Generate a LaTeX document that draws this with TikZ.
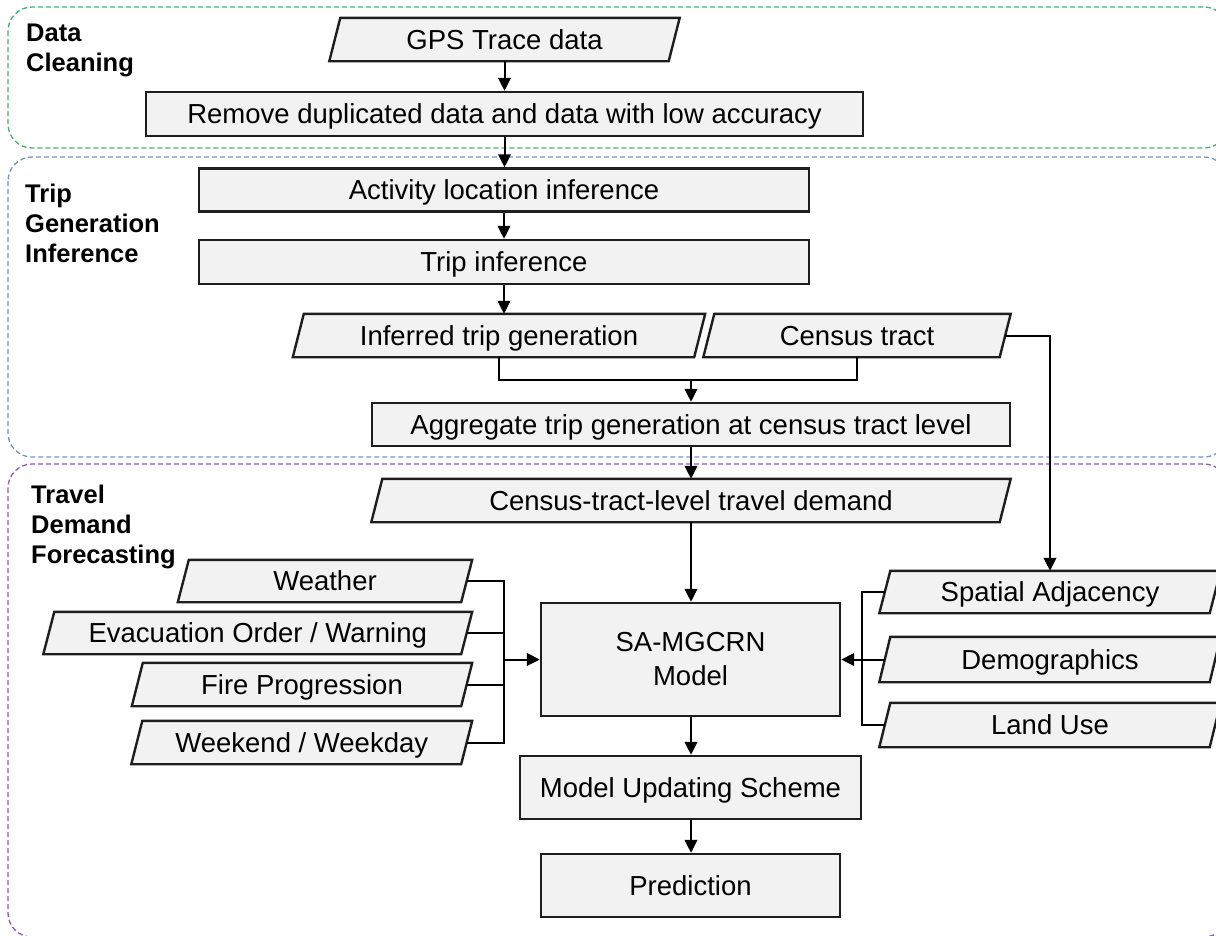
\documentclass[tikz,border=0pt]{standalone}
\usepackage{fontspec}
\setmainfont{Liberation Sans}
\usetikzlibrary{arrows.meta}
\pgfdeclarelayer{background}
\pgfsetlayers{background,main}

\definecolor{boxfill}{HTML}{F2F2F2}
\definecolor{boxline}{HTML}{1E1E1E}
\definecolor{stagegreen}{HTML}{3DB36B}
\definecolor{stageblue}{HTML}{7890CC}
\definecolor{stagepurple}{HTML}{8A58C8}

\tikzset{
  stage/.style={dashed, dash pattern=on 5pt off 3pt, line width=1.3pt, rounded corners=24pt},
  boxfont/.style={inner sep=0pt, align=center, font=\fontsize{27.5}{34}\selectfont},
  oneline/.style={text height=25pt, text depth=6pt},
  rectshape/.style={draw=boxline, fill=boxfill, line width=2.4pt},
  rectbox/.style={boxfont, oneline, rectshape},
  slantbox/.style={boxfont, oneline},
  modelbox/.style={boxfont, rectshape},
  paraline/.style={draw=boxline, fill=boxfill, line width=2.4pt, line join=miter},
  link/.style={line width=2pt, draw=black},
  arr/.style={link, -{Triangle[length=13pt,width=12.5pt]}},
  stagelabel/.style={font=\bfseries\fontsize{25.5}{30}\selectfont, align=left, anchor=north west, inner sep=0pt},
}

% outline of a data (parallelogram) node, drawn behind its text
\newcommand\slantoutline[1]{%
  \begin{pgfonlayer}{background}
    \draw[paraline] ([xshift=-5.5pt]#1.south west) -- ([xshift=-5.5pt]#1.south east)
      -- ([xshift=5.5pt]#1.north east) -- ([xshift=5.5pt]#1.north west) -- cycle;
  \end{pgfonlayer}}

\begin{document}
\begin{tikzpicture}[x=1pt, y=-1pt]
\useasboundingbox (0,0) rectangle (1216,935);

% stage frames
\begin{scope}
  \clip (0,0) rectangle (1216,935);
  \draw[stage, stagegreen]  (8,7)   rectangle (1228,148);
  \draw[stage, stageblue]   (8,157) rectangle (1228,457);
  \draw[stage, stagepurple] (8,464) rectangle (1228,937);
\end{scope}

% stage labels
\node[stagelabel] (lblclean) at (26,24)  {Data\\Cleaning};
\node[stagelabel] (lbltrip)  at (25,184) {Trip\\Generation\\Inference};
\node[stagelabel] (lbltravel) at (31,485) {Travel\\Demand\\Forecasting};

% data cleaning
\node[slantbox, minimum width=339pt, minimum height=43pt] (gps) at (504.5,39.5) {GPS Trace data};
\slantoutline{gps}
\node[rectbox, minimum width=717pt, minimum height=44pt] (clean) at (504.5,114) {Remove duplicated data and data with low accuracy};

% trip generation inference
\node[rectbox, minimum width=610pt, minimum height=43pt] (act) at (504,190) {Activity location inference};
\node[rectbox, minimum width=610pt, minimum height=44pt] (tripinf) at (504,262) {Trip inference};
\node[slantbox, minimum width=401pt, minimum height=43pt] (inftrip) at (499,335.5) {Inferred trip generation};
\slantoutline{inftrip}
\node[slantbox, minimum width=296pt, minimum height=43pt] (tract) at (857,335.5) {Census tract};
\slantoutline{tract}
\node[rectbox, minimum width=638pt, minimum height=43pt] (agg) at (691,424.5) {Aggregate trip generation at census tract level};

% travel demand forecasting
\node[slantbox, minimum width=628pt, minimum height=43pt] (demand) at (691,500.5) {Census-tract-level travel demand};
\slantoutline{demand}
\node[modelbox, minimum width=299pt, minimum height=113pt] (model) at (690.5,659.5) {SA-MGCRN\\Model};

\node[slantbox, minimum width=283pt, minimum height=42pt] (weather) at (325,581) {Weather};
\slantoutline{weather}
\node[slantbox, minimum width=417.5pt, minimum height=42pt] (evac) at (257.75,633) {Evacuation Order / Warning};
\slantoutline{evac}
\node[slantbox, minimum width=329pt, minimum height=43pt] (fire) at (302,684.5) {Fire Progression};
\slantoutline{fire}
\node[slantbox, minimum width=329.5pt, minimum height=43pt] (week) at (301.75,742.5) {Weekend / Weekday};
\slantoutline{week}

\node[slantbox, minimum width=330pt, minimum height=42pt] (spatial) at (1050,592) {Spatial Adjacency};
\slantoutline{spatial}
\node[slantbox, minimum width=330pt, minimum height=45pt] (demo) at (1050,659.5) {Demographics};
\slantoutline{demo}
\node[slantbox, minimum width=330pt, minimum height=44pt] (landuse) at (1050,725) {Land Use};
\slantoutline{landuse}

\node[rectbox, minimum width=341pt, minimum height=63pt] (update) at (690.5,787.5) {Model Updating Scheme};
\node[rectbox, minimum width=299pt, minimum height=63pt] (predict) at (690.5,885.5) {Prediction};

% connectors
\draw[arr] (gps) -- (clean);
\draw[arr] (clean.south -| gps.south) -- (act.north -| gps.south);
\draw[arr] (act) -- (tripinf);
\draw[arr] (tripinf.south) -- (tripinf.south |- inftrip.north);

\coordinate (merge) at (691,380);
\draw[link] (inftrip.south) |- (merge) -| (tract.south);
\draw[arr] (merge) -- (agg.north -| merge);
\draw[arr] (agg.south -| merge) -- (demand.north -| merge);
\draw[arr] (demand.south -| merge) -- (model.north -| merge);

\draw[arr] (tract.east) -| (spatial.north);

\coordinate (leftbus) at (504,659.5);
\draw[link] (weather.east) -- (weather.east -| leftbus) -- (week.east -| leftbus) -- (week.east);
\draw[link] (evac.east) -- (evac.east -| leftbus);
\draw[link] (fire.east) -- (fire.east -| leftbus);
\draw[arr] (leftbus) -- (model.west);

\coordinate (rightbus) at (862,659.5);
\draw[link] (spatial.west) -- (spatial.west -| rightbus) -- (landuse.west -| rightbus) -- (landuse.west);
\draw[link] (demo.west) -- (rightbus);
\draw[arr] (rightbus) -- (model.east);

\draw[arr] (model.south -| merge) -- (update.north -| merge);
\draw[arr] (update.south -| merge) -- (predict.north -| merge);
\end{tikzpicture}
\end{document}
